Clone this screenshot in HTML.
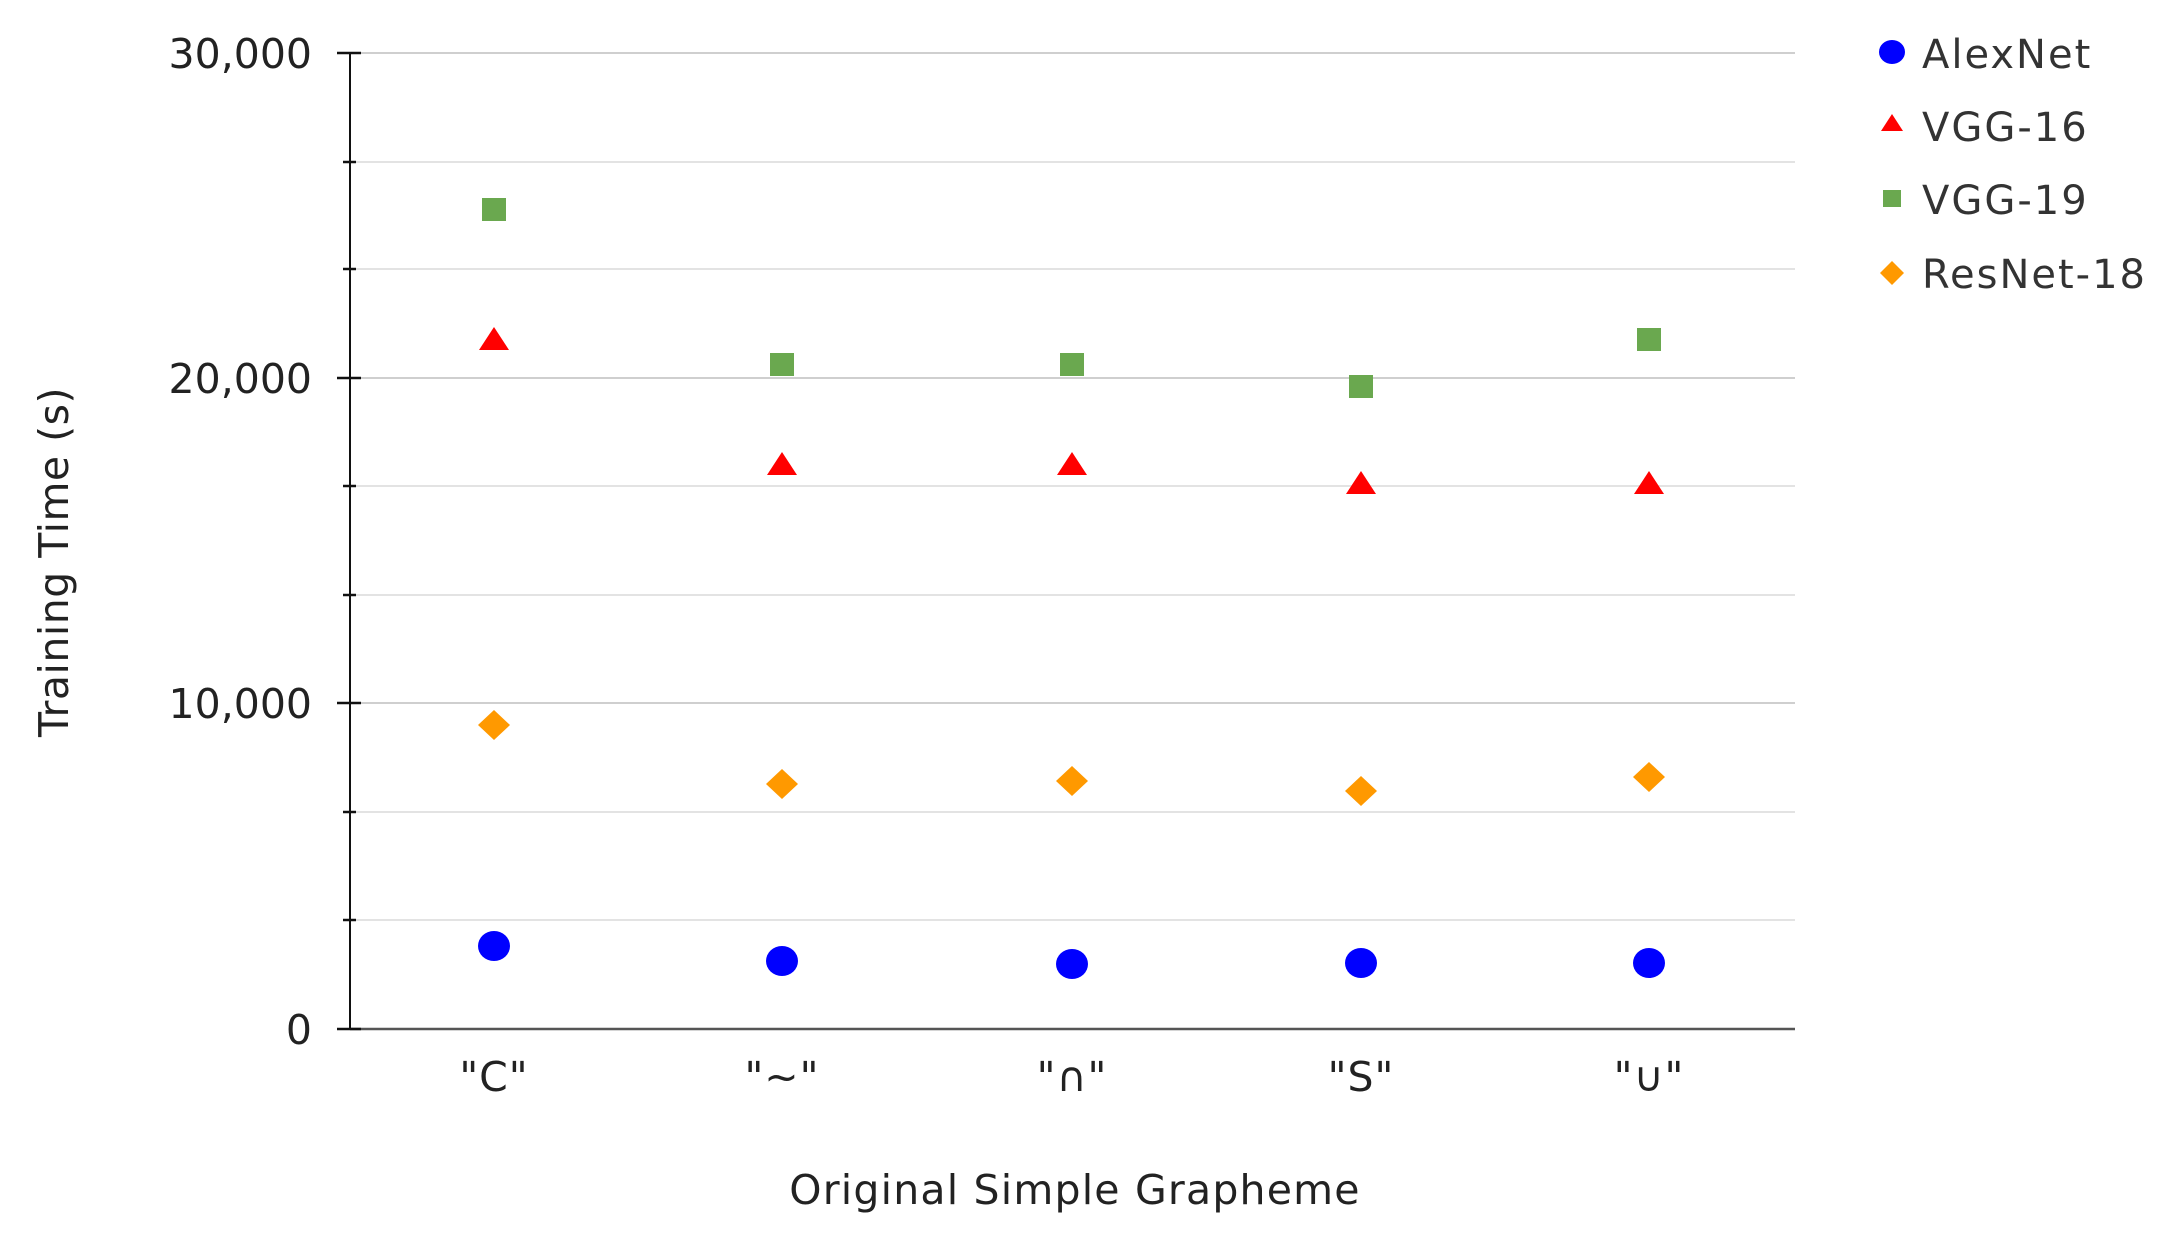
<!DOCTYPE html>
<html><head><meta charset="utf-8"><style>html,body{margin:0;padding:0;background:#fff}svg{display:block}</style></head>
<body>
<svg width="2175" height="1239" viewBox="0 0 2175 1239" xmlns="http://www.w3.org/2000/svg" font-family="'DejaVu Sans','Liberation Sans',sans-serif">
<g stroke="#e3e3e3" stroke-width="2">
<line x1="350" y1="162" x2="1795" y2="162"/><line x1="350" y1="269" x2="1795" y2="269"/>
<line x1="350" y1="486" x2="1795" y2="486"/><line x1="350" y1="595" x2="1795" y2="595"/>
<line x1="350" y1="812" x2="1795" y2="812"/><line x1="350" y1="920" x2="1795" y2="920"/>
</g>
<g stroke="#cfcfcf" stroke-width="2">
<line x1="350" y1="53" x2="1795" y2="53"/><line x1="350" y1="378" x2="1795" y2="378"/><line x1="350" y1="703" x2="1795" y2="703"/>
</g>
<line x1="350" y1="1029" x2="1795" y2="1029" stroke="#555" stroke-width="2.5"/>
<line x1="350" y1="52" x2="350" y2="1030" stroke="#111" stroke-width="2"/>
<g stroke="#111" stroke-width="2.5">
<line x1="337" y1="53" x2="361" y2="53"/><line x1="337" y1="378" x2="361" y2="378"/><line x1="337" y1="703" x2="361" y2="703"/><line x1="337" y1="1029" x2="361" y2="1029"/>
<line x1="343" y1="162" x2="356" y2="162"/><line x1="343" y1="269" x2="356" y2="269"/><line x1="343" y1="486" x2="356" y2="486"/><line x1="343" y1="595" x2="356" y2="595"/><line x1="343" y1="812" x2="356" y2="812"/><line x1="343" y1="920" x2="356" y2="920"/>
</g>
<g font-size="41" fill="#222" text-anchor="end">
<text x="312" y="68">30,000</text><text x="312" y="393">20,000</text><text x="312" y="718">10,000</text><text x="312" y="1044">0</text>
</g>
<g font-size="41" fill="#222" text-anchor="middle">
<text x="494" y="1091" letter-spacing="1">"C"</text><text x="782" y="1091" letter-spacing="1">"~"</text><text x="1072" y="1091" letter-spacing="1">"∩"</text><text x="1361" y="1091" letter-spacing="1">"S"</text><text x="1649" y="1091" letter-spacing="1">"∪"</text>
<text x="1075" y="1204" letter-spacing="1.2">Original Simple Grapheme</text>
<text transform="translate(68,562) rotate(-90)" letter-spacing="0.5">Training Time (s)</text>
</g>
<g fill="#0000ff">
<ellipse cx="494" cy="946" rx="16" ry="15"/><ellipse cx="782" cy="961" rx="16" ry="15"/><ellipse cx="1072" cy="964" rx="16" ry="15"/><ellipse cx="1361" cy="963" rx="16" ry="15"/><ellipse cx="1649" cy="963" rx="16" ry="15"/>
</g>
<g fill="#ff0000">
<polygon points="494,327 479,350 509,350"/><polygon points="782,452 767,475 797,475"/><polygon points="1072,452 1057,475 1087,475"/><polygon points="1361,471 1346,494 1376,494"/><polygon points="1649,471 1634,494 1664,494"/>
</g>
<g fill="#6aa84f">
<rect x="482" y="198" width="24" height="23"/><rect x="770" y="353" width="24" height="23"/><rect x="1060" y="353" width="24" height="23"/><rect x="1349" y="375" width="24" height="23"/><rect x="1637" y="328" width="24" height="23"/>
</g>
<g fill="#ff9900">
<polygon points="494,710 510,725 494,740 478,725"/><polygon points="782,769 798,784 782,799 766,784"/><polygon points="1072,766 1088,781 1072,796 1056,781"/><polygon points="1361,776 1377,791 1361,806 1345,791"/><polygon points="1649,762 1665,777 1649,792 1633,777"/>
</g>
<ellipse cx="1892" cy="52" rx="13" ry="12" fill="#0000ff"/>
<polygon points="1892,114 1881,131 1903,131" fill="#ff0000"/>
<rect x="1883" y="190" width="18" height="17" fill="#6aa84f"/>
<polygon points="1892,261 1904,273 1892,285 1880,273" fill="#ff9900"/>
<g font-size="40" fill="#333" letter-spacing="2">
<text x="1922" y="68">AlexNet</text><text x="1922" y="141">VGG-16</text><text x="1922" y="214">VGG-19</text><text x="1922" y="288">ResNet-18</text>
</g>
</svg>
</body></html>
